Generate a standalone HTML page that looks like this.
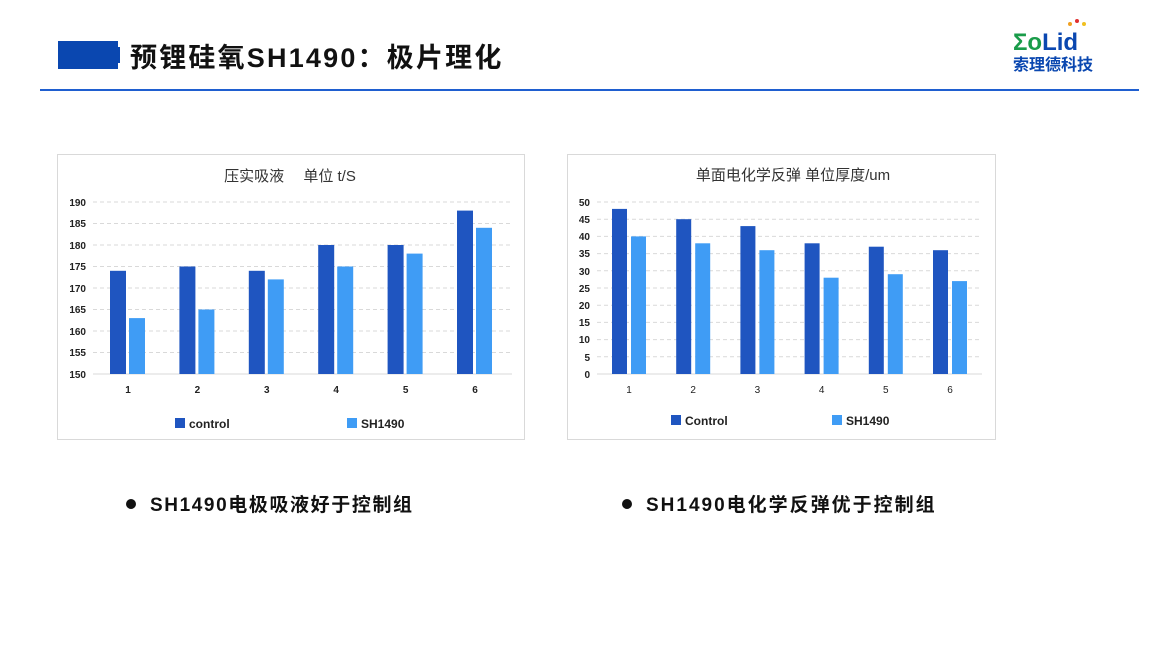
<!DOCTYPE html>
<html><head><meta charset="utf-8"><style>
body{margin:0;width:1150px;height:647px;background:#fff;overflow:hidden;font-family:"Liberation Sans","Noto Sans CJK SC",sans-serif}
</style></head><body>
<svg width="1150" height="647" xmlns="http://www.w3.org/2000/svg" font-family="Liberation Sans, Noto Sans CJK SC, sans-serif">
<rect x="58" y="41" width="60" height="28" fill="#0a47b0"/>
<rect x="112" y="47" width="8" height="16" fill="#0a47b0"/>
<text x="130" y="67" font-size="27" font-weight="bold" fill="#111" letter-spacing="2.2">预锂硅氧SH1490：极片理化</text>
<text x="1013" y="50" font-size="24" font-weight="bold" fill="#1a9c4a">Σ<tspan fill="#1a9c4a">o</tspan><tspan fill="#0a47b0">Lid</tspan></text>
<circle cx="1070" cy="24" r="2" fill="#f0a020"/><circle cx="1077" cy="21" r="2" fill="#e03030"/><circle cx="1084" cy="24" r="2" fill="#f0c020"/>
<text x="1013" y="70" font-size="16" font-weight="bold" fill="#0a47b0">索理德科技</text>
<rect x="40" y="89" width="1099" height="2" fill="#1f5fd0"/>

<rect x="57.5" y="154.5" width="467" height="285" fill="#fff" stroke="#d9d9d9"/>
<text x="290" y="181" font-size="15" text-anchor="middle" fill="#333">压实吸液 　单位  t/S</text>
<g stroke="#d9d9d9" stroke-dasharray="4,3">
<line x1="93" x2="512" y1="202" y2="202"/><line x1="93" x2="512" y1="223.5" y2="223.5"/><line x1="93" x2="512" y1="245" y2="245"/><line x1="93" x2="512" y1="266.5" y2="266.5"/><line x1="93" x2="512" y1="288" y2="288"/><line x1="93" x2="512" y1="309.5" y2="309.5"/><line x1="93" x2="512" y1="331" y2="331"/><line x1="93" x2="512" y1="352.5" y2="352.5"/>
</g>
<line x1="93" x2="512" y1="374" y2="374" stroke="#d9d9d9"/>
<g font-size="10" font-weight="bold" fill="#222" text-anchor="end">
<text x="86" y="206">190</text><text x="86" y="227">185</text><text x="86" y="249">180</text><text x="86" y="270">175</text><text x="86" y="292">170</text><text x="86" y="313">165</text><text x="86" y="335">160</text><text x="86" y="356">155</text><text x="86" y="378">150</text>
</g>
<g fill="#1f55c0">
<rect x="110" y="270.8" width="16" height="103.2"/><rect x="179.4" y="266.5" width="16" height="107.5"/><rect x="248.8" y="270.8" width="16" height="103.2"/><rect x="318.2" y="245" width="16" height="129"/><rect x="387.6" y="245" width="16" height="129"/><rect x="457" y="210.6" width="16" height="163.4"/>
</g>
<g fill="#3f9cf5">
<rect x="129" y="318.1" width="16" height="55.9"/><rect x="198.4" y="309.5" width="16" height="64.5"/><rect x="267.8" y="279.4" width="16" height="94.6"/><rect x="337.2" y="266.5" width="16" height="107.5"/><rect x="406.6" y="253.6" width="16" height="120.4"/><rect x="476" y="227.8" width="16" height="146.2"/>
</g>
<g font-size="10" font-weight="bold" fill="#222" text-anchor="middle">
<text x="128" y="393">1</text><text x="197.4" y="393">2</text><text x="266.8" y="393">3</text><text x="336.2" y="393">4</text><text x="405.6" y="393">5</text><text x="475" y="393">6</text>
</g>
<rect x="175" y="418" width="10" height="10" fill="#1f55c0"/><text x="189" y="428" font-size="12" font-weight="bold" fill="#222">control</text>
<rect x="347" y="418" width="10" height="10" fill="#3f9cf5"/><text x="361" y="428" font-size="12" font-weight="bold" fill="#222">SH1490</text>

<rect x="567.5" y="154.5" width="428" height="285" fill="#fff" stroke="#d9d9d9"/>
<text x="793" y="180" font-size="15" text-anchor="middle" fill="#333">单面电化学反弹  单位厚度/um</text>
<g stroke="#d9d9d9" stroke-dasharray="4,3">
<line x1="597" x2="982" y1="202" y2="202"/><line x1="597" x2="982" y1="219.2" y2="219.2"/><line x1="597" x2="982" y1="236.4" y2="236.4"/><line x1="597" x2="982" y1="253.6" y2="253.6"/><line x1="597" x2="982" y1="270.8" y2="270.8"/><line x1="597" x2="982" y1="288" y2="288"/><line x1="597" x2="982" y1="305.2" y2="305.2"/><line x1="597" x2="982" y1="322.4" y2="322.4"/><line x1="597" x2="982" y1="339.6" y2="339.6"/><line x1="597" x2="982" y1="356.8" y2="356.8"/>
</g>
<line x1="597" x2="982" y1="374" y2="374" stroke="#d9d9d9"/>
<g font-size="10" font-weight="bold" fill="#222" text-anchor="end">
<text x="590" y="206">50</text><text x="590" y="223">45</text><text x="590" y="240">40</text><text x="590" y="257">35</text><text x="590" y="275">30</text><text x="590" y="292">25</text><text x="590" y="309">20</text><text x="590" y="326">15</text><text x="590" y="343">10</text><text x="590" y="361">5</text><text x="590" y="378">0</text>
</g>
<g fill="#1f55c0">
<rect x="612" y="208.9" width="15" height="165.1"/><rect x="676.2" y="219.2" width="15" height="154.8"/><rect x="740.4" y="226.1" width="15" height="147.9"/><rect x="804.6" y="243.3" width="15" height="130.7"/><rect x="868.8" y="246.7" width="15" height="127.3"/><rect x="933" y="250.2" width="15" height="123.8"/>
</g>
<g fill="#3f9cf5">
<rect x="631" y="236.4" width="15" height="137.6"/><rect x="695.2" y="243.3" width="15" height="130.7"/><rect x="759.4" y="250.2" width="15" height="123.8"/><rect x="823.6" y="277.7" width="15" height="96.3"/><rect x="887.8" y="274.2" width="15" height="99.8"/><rect x="952" y="281.1" width="15" height="92.9"/>
</g>
<g font-size="10" fill="#222" text-anchor="middle">
<text x="629" y="393">1</text><text x="693.2" y="393">2</text><text x="757.4" y="393">3</text><text x="821.6" y="393">4</text><text x="885.8" y="393">5</text><text x="950" y="393">6</text>
</g>
<rect x="671" y="415" width="10" height="10" fill="#1f55c0"/><text x="685" y="425" font-size="12" font-weight="bold" fill="#222">Control</text>
<rect x="832" y="415" width="10" height="10" fill="#3f9cf5"/><text x="846" y="425" font-size="12" font-weight="bold" fill="#222">SH1490</text>

<circle cx="131" cy="504" r="5" fill="#111"/>
<text x="150" y="511" font-size="19" font-weight="bold" fill="#111" letter-spacing="1.6">SH1490电极吸液好于控制组</text>
<circle cx="627" cy="504" r="5" fill="#111"/>
<text x="646" y="511" font-size="19" font-weight="bold" fill="#111" letter-spacing="2">SH1490电化学反弹优于控制组</text>
</svg>
</body></html>
